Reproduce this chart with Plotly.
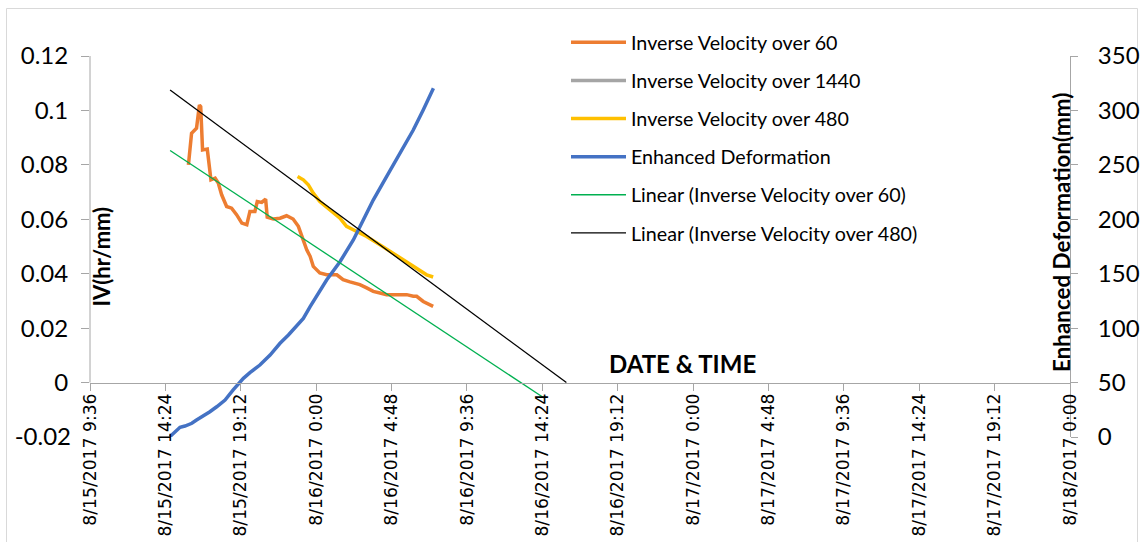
import plotly.graph_objects as go

# ---- data -------------------------------------------------------------
iv60_time = [
    "2017-08-15 15:52", "2017-08-15 16:04", "2017-08-15 16:23", "2017-08-15 16:34",
    "2017-08-15 16:39", "2017-08-15 16:46", "2017-08-15 17:04", "2017-08-15 17:18",
    "2017-08-15 17:34", "2017-08-15 17:46", "2017-08-15 17:59", "2017-08-15 18:18",
    "2017-08-15 18:37", "2017-08-15 18:56", "2017-08-15 19:16", "2017-08-15 19:35",
    "2017-08-15 19:47", "2017-08-15 20:06", "2017-08-15 20:15", "2017-08-15 20:32",
    "2017-08-15 20:47", "2017-08-15 20:53", "2017-08-15 21:16", "2017-08-15 21:42",
    "2017-08-15 22:07", "2017-08-15 22:32", "2017-08-15 22:52", "2017-08-15 23:11",
    "2017-08-15 23:24", "2017-08-15 23:37", "2017-08-15 23:49", "2017-08-16 00:14",
    "2017-08-16 00:40", "2017-08-16 01:19", "2017-08-16 01:43", "2017-08-16 02:09",
    "2017-08-16 02:47", "2017-08-16 03:13", "2017-08-16 03:38", "2017-08-16 04:04",
    "2017-08-16 04:29", "2017-08-16 05:07", "2017-08-16 05:46", "2017-08-16 06:11",
    "2017-08-16 06:24", "2017-08-16 06:49", "2017-08-16 07:27",
]
iv60_value = [
    0.0800, 0.0916, 0.0935, 0.1020, 0.1014, 0.0855, 0.0858, 0.0745,
    0.0751, 0.0733, 0.0690, 0.0647, 0.0641, 0.0617, 0.0586, 0.0580,
    0.0629, 0.0629, 0.0665, 0.0662, 0.0674, 0.0608, 0.0601, 0.0604,
    0.0613, 0.0601, 0.0574, 0.0525, 0.0488, 0.0464, 0.0427, 0.0403,
    0.0396, 0.0396, 0.0378, 0.0370, 0.0360, 0.0348, 0.0335, 0.0329,
    0.0323, 0.0323, 0.0323, 0.0317, 0.0317, 0.0298, 0.0280,
]

# the 1440-minute series has no points in this window
iv1440_time = [None]
iv1440_value = [None]

iv480_time = [
    "2017-08-15 22:49", "2017-08-15 23:11", "2017-08-15 23:30", "2017-08-15 23:49",
    "2017-08-16 00:14", "2017-08-16 00:53", "2017-08-16 01:31", "2017-08-16 01:56",
    "2017-08-16 02:35", "2017-08-16 03:13", "2017-08-16 04:04", "2017-08-16 04:42",
    "2017-08-16 05:32", "2017-08-16 06:24", "2017-08-16 07:02", "2017-08-16 07:27",
]
iv480_value = [
    0.0757, 0.0745, 0.0727, 0.0696, 0.0665, 0.0635, 0.0604, 0.0574,
    0.0555, 0.0537, 0.0506, 0.0482, 0.0451, 0.0421, 0.0396, 0.0388,
]

deform_time = [
    "2017-08-15 14:42", "2017-08-15 15:01", "2017-08-15 15:20", "2017-08-15 15:39",
    "2017-08-15 16:05", "2017-08-15 16:23", "2017-08-15 16:49", "2017-08-15 17:14",
    "2017-08-15 17:40", "2017-08-15 18:12", "2017-08-15 18:43", "2017-08-15 19:02",
    "2017-08-15 19:22", "2017-08-15 19:47", "2017-08-15 20:25", "2017-08-15 21:04",
    "2017-08-15 21:42", "2017-08-15 22:14", "2017-08-15 22:46", "2017-08-15 23:11",
    "2017-08-15 23:37", "2017-08-16 00:02", "2017-08-16 00:40", "2017-08-16 01:31",
    "2017-08-16 02:22", "2017-08-16 03:00", "2017-08-16 03:38", "2017-08-16 04:29",
    "2017-08-16 05:20", "2017-08-16 06:11", "2017-08-16 06:49", "2017-08-16 07:28",
]
deform_mm = [
    0.5, 4.9, 8.9, 10.1, 12.6, 15.6, 19.3, 23.2,
    27.8, 34.0, 43.2, 48.4, 53.9, 59.1, 66.1, 75.3,
    86.1, 93.7, 102.9, 109.0, 119.7, 128.9, 144.2, 161.0,
    181.0, 199.3, 217.7, 239.1, 260.6, 282.0, 300.4, 320.3,
]

# linear trend lines (start / end of the forecast segment)
trend60_time = ["2017-08-15 14:42", "2017-08-16 14:31"]
trend60_value = [0.0853, -0.0057]
trend480_time = ["2017-08-15 14:42", "2017-08-16 15:56"]
trend480_value = [0.1075, 0.0]

# x axis ticks every 4.8 hours
x_tickvals = [
    "2017-08-15 09:36", "2017-08-15 14:24", "2017-08-15 19:12", "2017-08-16 00:00",
    "2017-08-16 04:48", "2017-08-16 09:36", "2017-08-16 14:24", "2017-08-16 19:12",
    "2017-08-17 00:00", "2017-08-17 04:48", "2017-08-17 09:36", "2017-08-17 14:24",
    "2017-08-17 19:12", "2017-08-18 00:00",
]
x_ticktext = [
    "8/15/2017 9:36", "8/15/2017 14:24", "8/15/2017 19:12", "8/16/2017 0:00",
    "8/16/2017 4:48", "8/16/2017 9:36", "8/16/2017 14:24", "8/16/2017 19:12",
    "8/17/2017 0:00", "8/17/2017 4:48", "8/17/2017 9:36", "8/17/2017 14:24",
    "8/17/2017 19:12", "8/18/2017 0:00",
]
iv_tickvals = [0, 0.02, 0.04, 0.06, 0.08, 0.1, 0.12]
iv_ticktext = ["0", "0.02", "0.04", "0.06", "0.08", "0.1", "0.12"]
iv_low_tick = [-0.02]
iv_low_text = ["-0.02"]
deform_tickvals = [0, 50, 100, 150, 200, 250, 300, 350]

# ---- styling ----------------------------------------------------------
AXIS_GREY = "#a6a6a6"
FONT = "Lato"
TICK_FONT = dict(family=FONT, size=24, color="#000000")

fig = go.Figure()

fig.add_trace(go.Scatter(x=iv60_time, y=iv60_value, name="Inverse Velocity over 60",
                         mode="lines", line=dict(color="#ED7D31", width=3.5),
                         legendgroup="a", yaxis="y"))
fig.add_trace(go.Scatter(x=iv1440_time, y=iv1440_value, name="Inverse Velocity over 1440",
                         mode="lines", line=dict(color="#A5A5A5", width=3.5),
                         legendgroup="b", yaxis="y"))
fig.add_trace(go.Scatter(x=iv480_time, y=iv480_value, name="Inverse Velocity over 480",
                         mode="lines", line=dict(color="#FFC000", width=3.5),
                         legendgroup="c", yaxis="y"))
fig.add_trace(go.Scatter(x=deform_time, y=deform_mm, name="Enhanced Deformation",
                         mode="lines", line=dict(color="#4472C4", width=3.5),
                         legendgroup="d", yaxis="y2"))
fig.add_trace(go.Scatter(x=trend60_time, y=trend60_value,
                         name="Linear (Inverse Velocity over 60)",
                         mode="lines", line=dict(color="#00B050", width=1.3),
                         legendgroup="e", yaxis="y3"))
fig.add_trace(go.Scatter(x=trend480_time, y=trend480_value,
                         name="Linear (Inverse Velocity over 480)",
                         mode="lines", line=dict(color="#000000", width=1.3),
                         legendgroup="f", yaxis="y3"))

IV_RANGE = [-0.02, 0.12]

fig.update_layout(
    width=1141, height=542, autosize=False,
    margin=dict(l=90, r=71, t=56, b=105, pad=0, autoexpand=False),
    paper_bgcolor="white", plot_bgcolor="white",
    showlegend=True,
    legend=dict(
        x=(566 - 90) / 980, xanchor="left",
        y=(437 - 23) / 381, yanchor="top",
        font=dict(family=FONT, size=19.7, color="#000000"),
        bgcolor="rgba(0,0,0,0)", borderwidth=0,
        tracegroupgap=9.5, itemwidth=55,
    ),
    xaxis=dict(
        type="date",
        range=[x_tickvals[0], x_tickvals[-1]],
        tickmode="array", tickvals=x_tickvals, ticktext=x_ticktext,
        tickangle=-90,
        tickfont=dict(family="DejaVu Sans", size=17.2, color="#000000"),
        ticks="outside", ticklen=7, tickcolor=AXIS_GREY, tickwidth=1,
        ticklabelstandoff=-4,
        showline=True, linecolor=AXIS_GREY, linewidth=1,
        showgrid=False, zeroline=False, automargin=False,
        anchor="free", position=1 / 7,
    ),
    yaxis=dict(
        range=IV_RANGE,
        tickmode="array", tickvals=iv_tickvals, ticktext=iv_ticktext,
        tickfont=TICK_FONT,
        ticks="outside", ticklen=8, tickcolor=AXIS_GREY, tickwidth=1,
        ticklabelstandoff=8,
        showline=False, showgrid=False, zeroline=False, automargin=False,
    ),
    yaxis2=dict(
        range=[0, 350], overlaying="y", side="right",
        tickmode="array", tickvals=deform_tickvals,
        tickfont=TICK_FONT,
        ticks="outside", ticklen=7, tickcolor=AXIS_GREY, tickwidth=1,
        ticklabelstandoff=15,
        showline=True, linecolor=AXIS_GREY, linewidth=1,
        showgrid=False, zeroline=False, automargin=False,
    ),
    yaxis3=dict(
        range=IV_RANGE, overlaying="y", side="left",
        tickmode="array", tickvals=iv_low_tick, ticktext=iv_low_text,
        tickfont=TICK_FONT, ticks="", ticklabelstandoff=18,
        showline=False, showgrid=False, zeroline=False, automargin=False,
    ),
)

# left value axis line only spans the non-negative part
fig.add_shape(type="line", xref="paper", yref="y", x0=0, x1=0, y0=0, y1=0.12,
              line=dict(color=AXIS_GREY, width=1), layer="above")

# chart frame
fig.add_shape(type="rect", xref="paper", yref="paper",
              x0=(6.5 - 90) / 980, x1=(1137.5 - 90) / 980,
              y0=(437 - 600) / 381, y1=(437 - 8.5) / 381,
              line=dict(color="#d9d9d9", width=1), fillcolor="rgba(0,0,0,0)",
              layer="below")

fig.add_annotation(text="<b>DATE &amp; TIME</b>", xref="paper", yref="paper",
                   x=(682 - 90) / 980, y=(437 - 363) / 381,
                   xanchor="center", yanchor="middle",
                   showarrow=False, font=dict(family=FONT, size=24, color="#000000"))
fig.add_annotation(text="<b>IV(hr/mm)</b>", xref="paper", yref="paper",
                   x=(101 - 90) / 980, y=(437 - 256.5) / 381, textangle=-90,
                   xanchor="center", yanchor="middle",
                   showarrow=False, font=dict(family=FONT, size=22, color="#000000"))
fig.add_annotation(text="<b>Enhanced Deformation(mm)</b>", xref="paper", yref="paper",
                   x=(1062 - 90) / 980, y=(437 - 233) / 381, textangle=-90,
                   xanchor="center", yanchor="middle",
                   showarrow=False, font=dict(family=FONT, size=22.4, color="#000000"))

fig.write_html("out.html")
